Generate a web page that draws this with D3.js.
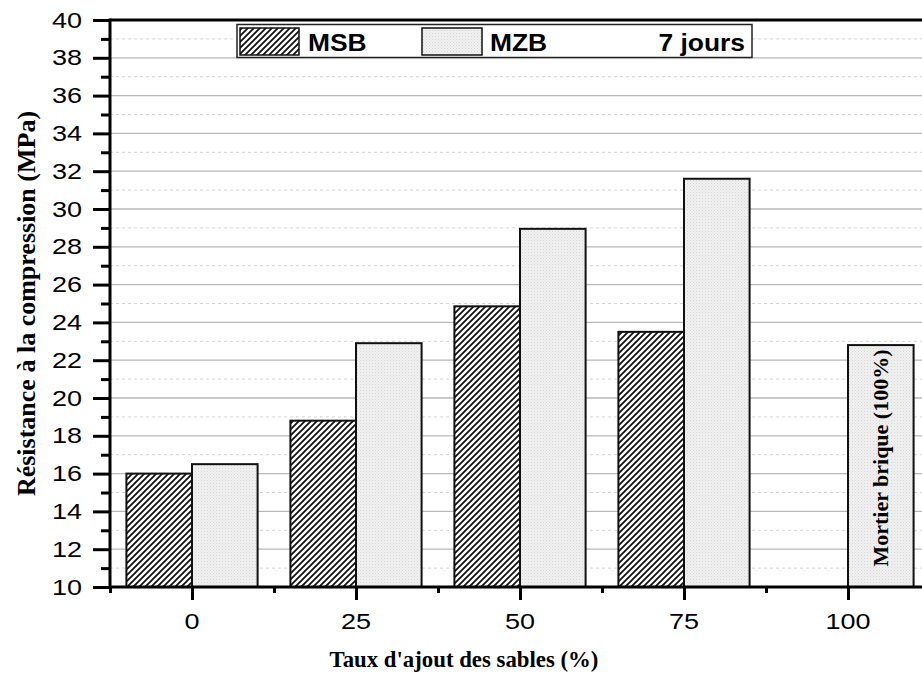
<!DOCTYPE html>
<html>
<head>
<meta charset="utf-8">
<script src="https://cdn.jsdelivr.net/npm/d3@7"></script>
<style>
  html, body { margin: 0; padding: 0; background: #fff; }
  svg { display: block; }
</style>
</head>
<body>
<svg id="chart" width="922" height="677"></svg>
<script>
// Compressive strength at 7 days vs. sand addition rate
const categories = [0, 25, 50, 75, 100];
const msbValues = [16.0, 18.8, 24.85, 23.5, null];
const mzbValues = [16.5, 22.9, 28.95, 31.6, 22.8];
const yTicks = [10, 12, 14, 16, 18, 20, 22, 24, 26, 28, 30, 32, 34, 36, 38, 40];
const xTicks = [0, 25, 50, 75, 100];
const seriesNames = ["MSB", "MZB"];
const legendNote = "7 jours";
const barNote = "Mortier brique (100%)";
const xTitle = "Taux d'ajout des sables (%)";
const yTitle = "Résistance à la compression (MPa)";

const svg = d3.select("#chart");
const W = 922, H = 677;
const plotLeft = 110, plotTop = 20, plotBottom = 587, plotRight = 930;
const barUnits = 10; // bar width in x-axis units

const x = d3.scaleLinear().domain([-12.5, 112.5]).range([plotLeft, plotRight]);
const y = d3.scaleLinear().domain([10, 40]).range([plotBottom, plotTop]);

const defs = svg.append("defs");
// diagonal hatch for MSB
const hatch = defs.append("pattern").attr("id", "hatch")
  .attr("patternUnits", "userSpaceOnUse").attr("width", 6).attr("height", 6);
hatch.append("rect").attr("width", 6).attr("height", 6).attr("fill", "#fff");
hatch.append("path").attr("d", "M0,6 L6,0 M-1.5,1.5 L1.5,-1.5 M4.5,7.5 L7.5,4.5")
  .attr("stroke", "#111").attr("stroke-width", 1.8);
// fine light-grey dotted fill for MZB
const dots = defs.append("pattern").attr("id", "dots")
  .attr("patternUnits", "userSpaceOnUse").attr("width", 3).attr("height", 3);
dots.append("rect").attr("width", 3).attr("height", 3).attr("fill", "#f1f1f1");
dots.append("rect").attr("x", 0).attr("y", 0).attr("width", 1).attr("height", 1).attr("fill", "#d6d6d6");
dots.append("rect").attr("x", 1.5).attr("y", 1.5).attr("width", 1).attr("height", 1).attr("fill", "#e0e0e0");

// grid: solid at major ticks, dashed at the minor ones
const grid = svg.append("g");
const minor = d3.range(11, 40, 2);
grid.selectAll("line.maj").data(yTicks.filter(v => v > 10 && v < 40)).join("line")
  .attr("class", "maj")
  .attr("x1", plotLeft).attr("x2", W).attr("y1", d => y(d)).attr("y2", d => y(d))
  .attr("stroke", "#b9b9b9").attr("stroke-width", 1.3);
grid.selectAll("line.min").data(minor).join("line")
  .attr("class", "min")
  .attr("x1", plotLeft).attr("x2", W).attr("y1", d => y(d)).attr("y2", d => y(d))
  .attr("stroke", "#d4d4d4").attr("stroke-width", 1).attr("stroke-dasharray", "3,3");

// bars
const bars = svg.append("g");
categories.forEach((c, i) => {
  if (msbValues[i] != null) {
    bars.append("rect")
      .attr("x", x(c - barUnits)).attr("width", x(c) - x(c - barUnits))
      .attr("y", y(msbValues[i])).attr("height", y(10) - y(msbValues[i]))
      .attr("fill", "url(#hatch)").attr("stroke", "#111").attr("stroke-width", 2);
  }
  if (mzbValues[i] != null) {
    bars.append("rect")
      .attr("x", x(c)).attr("width", x(c + barUnits) - x(c))
      .attr("y", y(mzbValues[i])).attr("height", y(10) - y(mzbValues[i]))
      .attr("fill", "url(#dots)").attr("stroke", "#111").attr("stroke-width", 2);
  }
});

// note inside the 100% bar
const lastIdx = categories.length - 1;
svg.append("text")
  .attr("transform", `translate(${x(categories[lastIdx] + barUnits / 2) + 7},${(y(mzbValues[lastIdx]) + plotBottom) / 2 - 8}) rotate(-90)`)
  .attr("text-anchor", "middle")
  .attr("font-family", "'Liberation Serif', 'Times New Roman', serif")
  .attr("font-weight", "bold").attr("font-size", 22)
  .text(barNote);

// helper for horizontally widened text
function wideText(g, tx, ty, str, opts) {
  return g.append("g").attr("transform", `translate(${tx},${ty}) scale(${opts.sx || 1},1)`)
    .append("text")
    .attr("text-anchor", opts.anchor || "start")
    .attr("dominant-baseline", "central")
    .attr("font-family", opts.family || "'Liberation Sans', Arial, sans-serif")
    .attr("font-weight", opts.weight || "normal")
    .attr("font-size", opts.size)
    .attr("fill", "#000")
    .text(str);
}

// y axis
const yAxis = d3.axisLeft(y).tickValues(yTicks).tickSize(17).tickFormat("");
const yAxisMinor = d3.axisLeft(y).tickValues(minor).tickSize(9).tickFormat("");
const ya = svg.append("g").attr("transform", `translate(${plotLeft},0)`).call(yAxis);
const yam = svg.append("g").attr("transform", `translate(${plotLeft},0)`).call(yAxisMinor);
[ya, yam].forEach(g => {
  g.select(".domain").remove();
  g.selectAll("line").attr("stroke", "#000").attr("stroke-width", 3);
});
const yLab = svg.append("g");
yTicks.forEach(v => wideText(yLab, 82, y(v), String(v), { anchor: "end", size: 22.5, sx: 1.2 }));

// x axis
const xAxis = d3.axisBottom(x).tickValues(xTicks).tickSize(13).tickFormat("");
const xAxisMinor = d3.axisBottom(x).tickValues([-12.5, 12.5, 37.5, 62.5, 87.5]).tickSize(6).tickFormat("");
const xa = svg.append("g").attr("transform", `translate(0,${plotBottom})`).call(xAxis);
const xam = svg.append("g").attr("transform", `translate(0,${plotBottom})`).call(xAxisMinor);
[xa, xam].forEach(g => {
  g.select(".domain").remove();
  g.selectAll("line").attr("stroke", "#000").attr("stroke-width", 3);
});
const xLab = svg.append("g");
xTicks.forEach(v => wideText(xLab, x(v), 621, String(v), { anchor: "middle", size: 22.5, sx: 1.2 }));

// frame lines
svg.append("line").attr("x1", plotLeft).attr("x2", plotLeft).attr("y1", plotTop - 1.5).attr("y2", plotBottom + 1.5)
  .attr("stroke", "#000").attr("stroke-width", 3);
svg.append("line").attr("x1", plotLeft).attr("x2", W).attr("y1", plotBottom).attr("y2", plotBottom)
  .attr("stroke", "#000").attr("stroke-width", 3);
svg.append("line").attr("x1", plotLeft).attr("x2", W).attr("y1", plotTop).attr("y2", plotTop)
  .attr("stroke", "#000").attr("stroke-width", 3);

// legend
const lg = svg.append("g");
lg.append("rect").attr("x", 237).attr("y", 24.5).attr("width", 515).attr("height", 33)
  .attr("fill", "#fff").attr("stroke", "#222").attr("stroke-width", 1.5);
lg.append("rect").attr("x", 240).attr("y", 28).attr("width", 59).attr("height", 27)
  .attr("fill", "url(#hatch)").attr("stroke", "#111").attr("stroke-width", 1.5);
lg.append("rect").attr("x", 422).attr("y", 28).attr("width", 60).attr("height", 27)
  .attr("fill", "url(#dots)").attr("stroke", "#111").attr("stroke-width", 1.5);
wideText(lg, 308, 42, seriesNames[0], { size: 24, weight: "bold", sx: 1.1 });
wideText(lg, 490, 42, seriesNames[1], { size: 24, weight: "bold", sx: 1.1 });
wideText(lg, 745, 42, legendNote, { size: 24, weight: "bold", sx: 1.1, anchor: "end" });

// axis titles
wideText(svg, 464, 659, xTitle, {
  size: 24, weight: "bold", sx: 0.95, anchor: "middle",
  family: "'Liberation Serif', 'Times New Roman', serif"
});
svg.append("text")
  .attr("transform", `translate(26,${(plotTop + plotBottom) / 2}) rotate(-90)`)
  .attr("text-anchor", "middle").attr("dominant-baseline", "central")
  .attr("font-family", "'Liberation Serif', 'Times New Roman', serif")
  .attr("font-weight", "bold").attr("font-size", 26)
  .text(yTitle);
</script>
</body>
</html>
